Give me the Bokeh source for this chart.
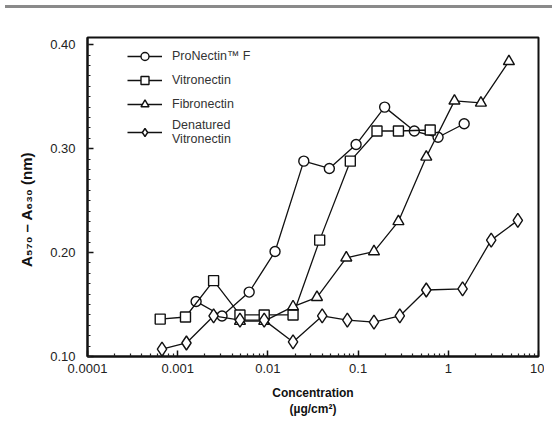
from bokeh.plotting import figure
from bokeh.models import (FixedTicker, NumeralTickFormatter, Legend, LegendItem,
                          Range1d, Div, ColumnDataSource)
from bokeh.layouts import column
from bokeh.embed import file_html
from bokeh.resources import INLINE

# ---------------- data ----------------
pronectin_x = [0.0016, 0.0031, 0.0062, 0.012, 0.025, 0.048, 0.095, 0.197, 0.42, 0.77, 1.5]
pronectin_y = [0.153, 0.139, 0.162, 0.201, 0.288, 0.281, 0.304, 0.340, 0.317, 0.311, 0.324]

vitro_x = [0.00064, 0.00122, 0.0025, 0.0049, 0.0091, 0.019, 0.0375, 0.082, 0.162, 0.28, 0.63]
vitro_y = [0.136, 0.138, 0.173, 0.140, 0.140, 0.140, 0.212, 0.288, 0.317, 0.317, 0.318]

fibro_x = [0.0049, 0.0091, 0.019, 0.035, 0.074, 0.15, 0.28, 0.57, 1.17, 2.3, 4.7]
fibro_y = [0.134, 0.134, 0.148, 0.157, 0.195, 0.201, 0.230, 0.292, 0.346, 0.344, 0.384]

denat_x = [0.00067, 0.00125, 0.0025, 0.0049, 0.0091, 0.019, 0.040, 0.076, 0.15, 0.29, 0.57, 1.44, 2.99, 5.9]
denat_y = [0.107, 0.113, 0.139, 0.135, 0.135, 0.114, 0.139, 0.135, 0.133, 0.139, 0.164, 0.165, 0.212, 0.231]

x_ticks = [0.0001, 0.001, 0.01, 0.1, 1, 10]
x_tick_labels = ["0.0001", "0.001", "0.01", "0.1", "1", "10"]
y_ticks = [0.10, 0.20, 0.30, 0.40]

series_names = ["ProNectin\u2122 F", "Vitronectin", "Fibronectin", "Denatured\nVitronectin"]

# ---------------- figure ----------------
FONT = "Liberation Sans"
p = figure(output_backend="svg", toolbar_location=None,
           x_axis_type="log",
           x_range=Range1d(0.0001, 10), y_range=Range1d(0.10, 0.407),
           frame_width=451, frame_height=319,
           min_border_left=87, min_border_right=6, min_border_top=24, min_border_bottom=66)
p.background_fill_color = "white"
p.border_fill_color = "white"
p.outline_line_color = "#111111"
p.outline_line_width = 2
p.xgrid.visible = False
p.ygrid.visible = False

minor_x = [m * t for t in x_ticks[:-1] for m in range(2, 10)]
minor_y = [round(0.10 + i * 0.01, 2) for i in range(0, 31)]

p.xaxis.ticker = FixedTicker(ticks=x_ticks, minor_ticks=minor_x)
p.xaxis.major_label_overrides = {t: l for t, l in zip(x_ticks, x_tick_labels)}
p.yaxis.ticker = FixedTicker(ticks=y_ticks, minor_ticks=minor_y)
p.yaxis.formatter = NumeralTickFormatter(format="0.00")

for ax in (p.xaxis, p.yaxis):
    ax.axis_line_color = "#111111"
    ax.axis_line_width = 2
    ax.major_tick_in = 6
    ax.major_tick_out = 0
    ax.minor_tick_in = 3
    ax.minor_tick_out = 0
    ax.major_tick_line_color = "#111111"
    ax.minor_tick_line_color = "#222222"
    ax.major_tick_line_width = 1.5
    ax.minor_tick_line_width = 1.2
    ax.major_label_text_font = FONT
    ax.major_label_text_font_size = "13px"
    ax.major_label_text_color = "#222222"
    ax.axis_label_text_font = FONT
    ax.axis_label_text_font_style = "bold"
    ax.axis_label_text_color = "#111111"

p.xaxis.axis_label_text_font_size = "12px"
p.yaxis.axis_label_text_font_size = "15px"
p.xaxis.major_label_standoff = 7
p.yaxis.major_label_standoff = 12
p.xaxis.axis_label = "Concentration\n(\u00b5g/cm\u00b2)"
p.xaxis.axis_label_standoff = 10
p.yaxis.axis_label = "A\u2085\u2087\u2080 \u2013 A\u2086\u2083\u2080 (nm)\u00a0\u00a0\u00a0\u00a0\u00a0\u00a0"
p.yaxis.axis_label_standoff = 12

LC = "#111111"
items = []
specs = [
    (pronectin_x, pronectin_y, "circle", 10),
    (vitro_x, vitro_y, "square", 10),
    (fibro_x, fibro_y, "triangle", 11),
    (denat_x, denat_y, "diamond", 14),
]
for (xs, ys, marker, size), name in zip(specs, series_names):
    src = ColumnDataSource(dict(x=xs, y=ys))
    ln = p.line("x", "y", source=src, line_color=LC, line_width=1.3)
    sc = p.scatter("x", "y", source=src, marker=marker, size=size,
                   fill_color="white", line_color=LC, line_width=1.4)
    items.append(LegendItem(label=name, renderers=[ln, sc]))

legend = Legend(items=items, location=(40, 210))
legend.border_line_color = None
legend.background_fill_alpha = 0
legend.padding = 5
legend.spacing = 4
legend.glyph_width = 35
legend.glyph_height = 20
legend.label_height = 20
legend.label_standoff = 10
legend.label_text_font = FONT
legend.label_text_font_size = "12.5px"
legend.label_text_line_height = 1.35
legend.label_text_color = "#333333"
p.add_layout(legend)

top_line = Div(text="", width=547, height=3,
               styles={"background-color": "#8a8a8a", "width": "547px", "height": "2px"})

layout = column(top_line, p, spacing=0)

open("out.html", "w").write(file_html(layout, INLINE))
